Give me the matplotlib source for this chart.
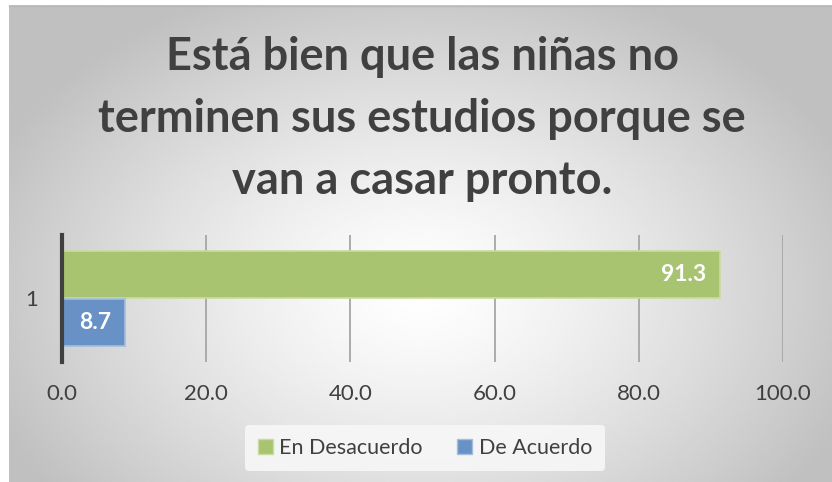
import matplotlib
matplotlib.use('Agg')
import matplotlib.pyplot as plt
from matplotlib.patches import Patch
import numpy as np

plt.rcParams['font.family'] = ['Lato', 'DejaVu Sans']

title = 'Está bien que las niñas no\nterminen sus estudios porque se\nvan a casar pronto.'
categories = ['1']
series_names = ['En Desacuerdo', 'De Acuerdo']
series_values = [[91.3], [8.7]]
series_colors = ['#a8c470', '#6892c5']
edge_colors = ['#c9dba0', '#a3bde0']
x_ticks = [0, 20, 40, 60, 80, 100]

W, H = 832, 482
fig = plt.figure(figsize=(W / 100, H / 100), dpi=100)
fig.patch.set_facecolor('white')

# radial gradient background (chart area starts a few px in from top-left)
bg = fig.add_axes([0, 0, 1, 1], zorder=-10)
bg.set_xlim(0, W)
bg.set_ylim(H, 0)
bg.axis('off')
xx, yy = np.meshgrid(np.linspace(9, W, 300), np.linspace(5, H, 200))
r = np.sqrt(((xx - 420) / 470) ** 2 + ((yy - 290) / 330) ** 2)
shade = 1.0 - 0.25 * np.clip(r, 0, 1) ** 1.3
bg.imshow(shade, cmap='gray', vmin=0, vmax=1, extent=[9, W, H, 5],
          aspect='auto', interpolation='bilinear')
bg.plot([9, W], [5.5, 5.5], color='#b8b8b8', lw=1)

ax = fig.add_axes([62 / W, 1 - 362 / H, (783 - 62) / W, (362 - 235) / H])
ax.patch.set_alpha(0)

offsets = [0.19, -0.19]
ypos = np.arange(len(categories))
for vals, name, c, ec, off in zip(series_values, series_names, series_colors, edge_colors, offsets):
    bars = ax.barh(ypos + off, vals, height=0.37, color=c, edgecolor=ec, linewidth=1.2,
                   label=name, zorder=3)
    for b, v in zip(bars, vals):
        ax.annotate(f'{v:.1f}', (b.get_width(), b.get_y() + b.get_height() / 2),
                    xytext=(-14, 0), textcoords='offset pixels',
                    ha='right', va='center', color='white', fontsize=16.5,
                    fontweight='bold', zorder=4)

ax.set_xlim(0, 100)
ax.set_ylim(-0.5, 0.5)
ax.set_xticks(x_ticks)
ax.set_xticklabels([f'{t:.1f}' for t in x_ticks])
ax.set_yticks(ypos)
ax.set_yticklabels(categories)
ax.grid(axis='x', color='#a6a6a6', lw=1.3, zorder=0)
for s in ['top', 'right', 'bottom']:
    ax.spines[s].set_visible(False)
ax.spines['left'].set_color('#404040')
ax.spines['left'].set_linewidth(3)
ax.spines['left'].set_zorder(5)
ax.tick_params(axis='both', length=0, labelsize=16, labelcolor='#404040')
ax.tick_params(axis='x', pad=16)
ax.tick_params(axis='y', pad=17)

fig.text(422 / W, 1 - 119 / H, title, ha='center', va='center', fontsize=32.5,
         fontweight='bold', color='#404040', linespacing=1.58)

handles = [Patch(facecolor=c, edgecolor=ec, label=n)
           for n, c, ec in zip(series_names, series_colors, edge_colors)]
leg = fig.legend(handles=handles, loc='center', bbox_to_anchor=(425 / W, 1 - 448 / H),
                 ncol=2, frameon=True, fontsize=15.5, handlelength=0.7, handleheight=0.7,
                 handletextpad=0.3, columnspacing=1.6, borderpad=0.6)
leg.get_frame().set_facecolor('#f7f7f7')
leg.get_frame().set_edgecolor('none')
leg.get_frame().set_alpha(0.9)
for t in leg.get_texts():
    t.set_color('#404040')

fig.savefig('out.png', dpi=100)
